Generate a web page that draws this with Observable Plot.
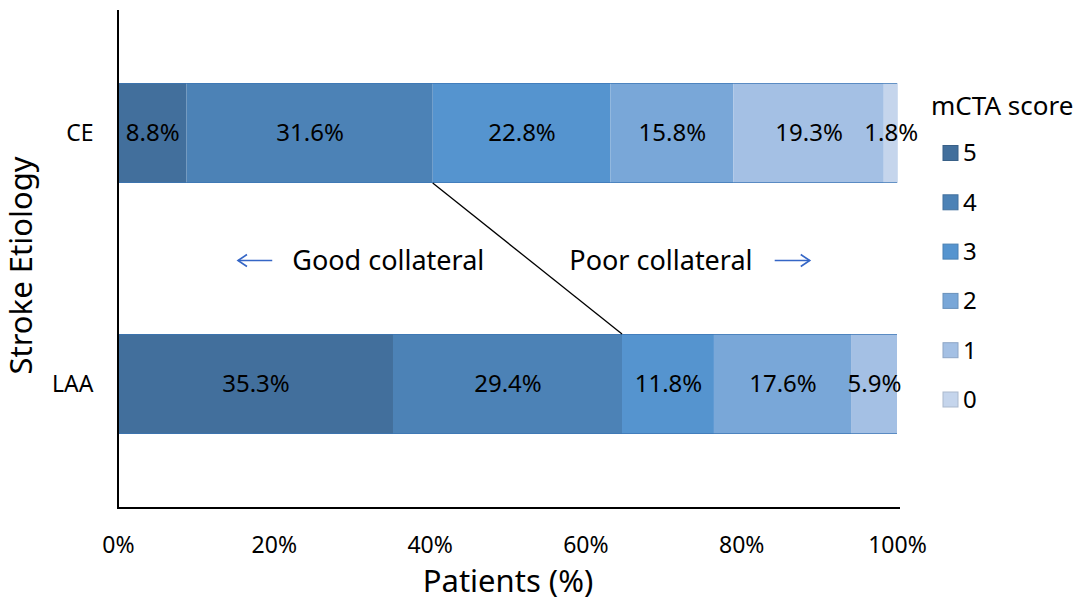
<!DOCTYPE html>
<html><head><meta charset="utf-8">
<script src="https://cdn.jsdelivr.net/npm/d3@7"></script>
<script src="https://cdn.jsdelivr.net/npm/@observablehq/plot@0.6"></script>
<style>body{margin:0;background:#fff;}</style>
</head><body><div id="chart"></div>
<script>
const etiologies = ["CE", "LAA"];
const scores = ["5", "4", "3", "2", "1", "0"];
const ceValues = [8.8, 31.6, 22.8, 15.8, 19.3, 1.8];
const laaValues = [35.3, 29.4, 11.8, 17.6, 5.9, 0];
const colors = ["#426f9c", "#4c82b6", "#5594cf", "#79a7d8", "#a4c0e4", "#c5d5ec"];
const xTicks = [0, 20, 40, 60, 80, 100];
const annotationLabels = ["Good collateral", "Poor collateral"];
const annotationX = [34.7, 69.7];
const arrowFrom = [19.8, 84.3];
const arrowTo = [15.4, 88.8];

const seriesByEtiology = [ceValues, laaValues];
const rows = etiologies.flatMap((e, i) => scores.map((s, j) => ({etiology: e, score: s, value: seriesByEtiology[i][j]})));
const FONT = "'Noto Sans', 'Open Sans', sans-serif";

const plot = Plot.plot({
  width: 1084, height: 615,
  marginLeft: 118, marginRight: 187, marginTop: 10, marginBottom: 107,
  style: {fontFamily: FONT, fontSize: "23px", background: "#fff", color: "#000"},
  x: {domain: [0, 100], label: null},
  y: {domain: etiologies, paddingInner: 0.6, paddingOuter: 0.292, label: null},
  color: {domain: scores, range: colors},
  marks: [
    Plot.barX(rows, {x: "value", y: "etiology", fill: "score", z: "score"}),
    Plot.text(rows.filter(d => d.value > 0), Plot.stackX({
      x: "value", y: "etiology", z: "score",
      text: d => d.value.toFixed(1) + "%",
      fontSize: 24, fill: "black"
    })),
    Plot.axisX({ticks: xTicks, tickFormat: d => d + "%", tickSize: 0, tickPadding: 28, label: null, fontSize: 23}),
    Plot.axisY({tickSize: 0, tickPadding: 25, label: null, fontSize: 23}),
    Plot.text(["Patients (%)"], {frameAnchor: "bottom", dy: 74, lineAnchor: "middle", textAnchor: "middle", fontSize: 31, fill: "#000"}),
    Plot.text(["Stroke Etiology"], {frameAnchor: "left", dx: -96, dy: 6, rotate: -90, textAnchor: "middle", lineAnchor: "middle", fontSize: 31, fill: "#000"})
  ]
});

const xs = plot.scale("x"), ys = plot.scale("y");
const bw = ys.bandwidth;
const svg = d3.select(plot);

const g = svg.append("g");
const x0 = xs.apply(0), x100 = xs.apply(100);
const yTop = 10, yBottom = 615 - 107;

// bar top/bottom edges
etiologies.forEach(e => {
  const y = ys.apply(e);
  [y + 0.5, y + bw - 0.5].forEach(yy => g.append("line")
    .attr("x1", x0).attr("x2", x100).attr("y1", yy).attr("y2", yy)
    .attr("stroke", "#3a75b5").attr("stroke-opacity", 0.7).attr("stroke-width", 1.2));
});

// axis lines
g.append("line").attr("x1", x0).attr("x2", x0).attr("y1", yTop).attr("y2", yBottom)
  .attr("stroke", "#000").attr("stroke-width", 2);
g.append("line").attr("x1", x0 - 1).attr("x2", x100 + 3).attr("y1", yBottom).attr("y2", yBottom)
  .attr("stroke", "#000").attr("stroke-width", 2);

// connector between score 4|3 boundaries
const ceCut = d3.sum(ceValues.slice(0, 2));
const laaCut = d3.sum(laaValues.slice(0, 2));
g.append("line")
  .attr("x1", xs.apply(ceCut)).attr("y1", ys.apply("CE") + bw)
  .attr("x2", xs.apply(laaCut)).attr("y2", ys.apply("LAA"))
  .attr("stroke", "#000").attr("stroke-width", 1.3);

// annotations
const midY = (ys.apply("CE") + bw + ys.apply("LAA")) / 2 + 2;
annotationLabels.forEach((t, i) => {
  g.append("text").attr("x", xs.apply(annotationX[i])).attr("y", midY).attr("dy", "0.35em")
    .attr("text-anchor", "middle").attr("font-family", FONT).attr("font-size", 27).attr("fill", "#000").text(t);
  const a = xs.apply(arrowFrom[i]), b = xs.apply(arrowTo[i]);
  const dir = Math.sign(b - a);
  g.append("line").attr("x1", a).attr("x2", b).attr("y1", midY).attr("y2", midY)
    .attr("stroke", "#3566c6").attr("stroke-width", 1.6);
  g.append("path").attr("d", `M${b - dir * 9},${midY - 6}L${b},${midY}L${b - dir * 9},${midY + 6}`)
    .attr("fill", "none").attr("stroke", "#3566c6").attr("stroke-width", 1.6);
});

// legend
const lg = svg.append("g").attr("font-family", FONT).attr("text-anchor", "start");
lg.append("text").attr("x", 931).attr("y", 106).attr("dy", "0.35em").attr("font-size", 26).attr("fill", "#000").text("mCTA score");
scores.forEach((s, i) => {
  const cy = 153 + i * 49.3;
  lg.append("rect").attr("x", 943).attr("y", cy - 7.5).attr("width", 15).attr("height", 15)
    .attr("fill", colors[i]).attr("stroke", d3.color(colors[i]).darker(0.4)).attr("stroke-width", 1);
  lg.append("text").attr("x", 963).attr("y", cy).attr("dy", "0.35em").attr("font-size", 24).attr("fill", "#000").text(s);
});

document.getElementById("chart").appendChild(plot);
</script>
</body></html>
